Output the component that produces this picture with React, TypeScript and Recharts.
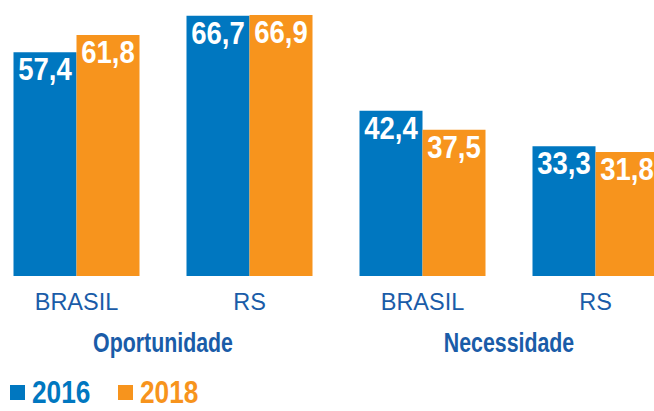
import React from 'react'
import { BarChart, Bar, XAxis, YAxis, LabelList, Legend } from 'recharts'

const categories = ['BRASIL', 'RS', 'BRASIL', 'RS']
const groups = ['Oportunidade', 'Necessidade']
const values2016 = [57.4, 66.7, 42.4, 33.3]
const values2018 = [61.8, 66.9, 37.5, 31.8]
const years = ['2016', '2018']

const BLUE = '#0077c0'
const ORANGE = '#f7941d'
const TEXT_BLUE = '#1a5ca8'
const SANS = '"Liberation Sans", Arial, sans-serif'

const CHART_W = 692
const BAND = CHART_W / categories.length

const data = categories.map((name, i) => ({
  name,
  y2016: values2016[i],
  y2018: values2018[i]
}))

const fmt = (v: number) => v.toFixed(1).replace('.', ',')

// no condensed font installed, so squeeze a bold sans horizontally
function NarrowText({ x, y, scale, size, fill, children }: any) {
  return (
    <text
      transform={`translate(${x},${y}) scale(${scale},1)`}
      textAnchor="middle"
      fill={fill}
      fontSize={size}
      fontWeight="bold"
      fontFamily={SANS}
    >
      {children}
    </text>
  )
}

function CategoryTick(props: any) {
  const { x, y, payload, index } = props
  return (
    <g>
      <text x={x} y={y + 34} textAnchor="middle" fill={TEXT_BLUE} fontSize={23.5} fontFamily={SANS}>
        {payload.value}
      </text>
      {index % 2 === 0 && (
        <NarrowText x={x + BAND / 2} y={y + 76} scale={0.79} size={27} fill={TEXT_BLUE}>
          {groups[index / 2]}
        </NarrowText>
      )}
    </g>
  )
}

function BarValue(props: any) {
  const { x, y, width, value } = props
  return (
    <NarrowText x={x + width / 2} y={y + 28} scale={0.86} size={32} fill="#fff">
      {fmt(value)}
    </NarrowText>
  )
}

function YearLegend() {
  const colors = [BLUE, ORANGE]
  return (
    <div style={{ display: 'flex', alignItems: 'center', paddingLeft: 20 }}>
      {years.map((yr, i) => (
        <div key={yr} style={{ display: 'flex', alignItems: 'center', width: 108 }}>
          <span style={{ width: 15, height: 15, background: colors[i], display: 'inline-block', marginRight: 7 }} />
          <span
            style={{
              color: colors[i],
              fontFamily: SANS,
              fontWeight: 'bold',
              fontSize: 32,
              lineHeight: '32px',
              display: 'inline-block',
              transform: 'scaleX(0.82)',
              transformOrigin: 'left center'
            }}
          >
            {yr}
          </span>
        </div>
      ))}
    </div>
  )
}

export default function App() {
  return (
    <div style={{ position: 'fixed', left: 0, top: 0, width: 654, height: 411, overflow: 'hidden', background: '#fff' }}>
      <div style={{ position: 'absolute', left: -10, top: 0 }}>
        <BarChart
          width={CHART_W}
          height={411}
          data={data}
          margin={{ top: 3, right: 0, bottom: 0, left: 0 }}
          barCategoryGap={23.5}
          barGap={0}
        >
          <XAxis
            dataKey="name"
            allowDuplicatedCategory
            axisLine={false}
            tickLine={false}
            tickSize={0}
            tickMargin={0}
            height={100}
            interval={0}
            tick={<CategoryTick />}
          />
          <YAxis hide domain={[0, 70]} />
          <Legend verticalAlign="bottom" align="left" height={35} content={<YearLegend />} />
          <Bar dataKey="y2016" fill={BLUE} isAnimationActive={false}>
            <LabelList dataKey="y2016" content={<BarValue />} />
          </Bar>
          <Bar dataKey="y2018" fill={ORANGE} isAnimationActive={false}>
            <LabelList dataKey="y2018" content={<BarValue />} />
          </Bar>
        </BarChart>
      </div>
    </div>
  )
}
